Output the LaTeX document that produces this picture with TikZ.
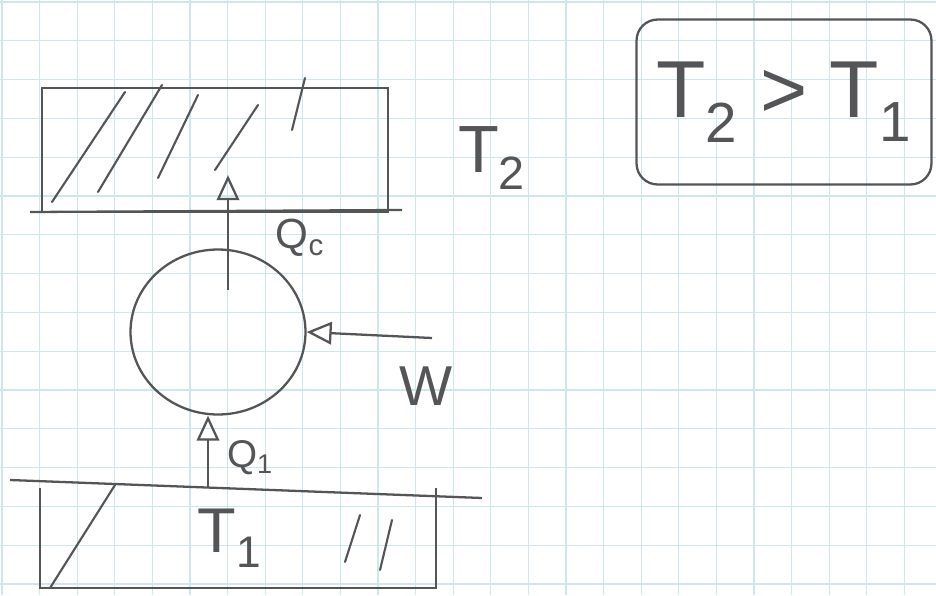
\documentclass[tikz,border=0pt]{standalone}
\usepackage{fontspec}
\setmainfont{Liberation Sans}
\usetikzlibrary{positioning,calc,arrows.meta,shapes.geometric}
\definecolor{ink}{RGB}{85,85,88}
\definecolor{gridc}{RGB}{204,232,236}
\tikzset{
  resv/.style ={draw=ink,line width=1.3pt,inner sep=0pt},
  eng/.style  ={ellipse,draw=ink,line width=1.3pt,inner sep=0pt},
  heat/.style ={-{Triangle[open,length=5mm,width=4.5mm]},draw=ink,line width=1.3pt},
  hatch/.style={draw=ink,line width=1.2pt,line cap=round},
  lbl/.style  ={text=ink,inner sep=1pt},
  gridln/.style={draw=gridc,line width=.6pt},
}
\begin{document}
\begin{tikzpicture}[x=0.02cm,y=-0.02cm]
\useasboundingbox (0,0) rectangle (936,595);
\fill[white] (0,0) rectangle (936,595);

% ===================== PAPEL QUADRICULADO ===========================
\foreach \gx in {0,...,24} \draw[gridln] (2+37.6*\gx,0) -- (2+37.6*\gx,595);
\foreach \gy in {0,...,15} \draw[gridln] (0,2+38.8*\gy) -- (936,2+38.8*\gy);

% ===================== RESERVATORIOS ================================
\node[resv,minimum width=6.92cm,minimum height=2.48cm] (hot)  at (215,150) {};
\node[inner sep=0pt,minimum width=7.9cm,minimum height=2.0cm] (cold) at (238,538) {};
\coordinate (hotl)  at (30,212);   \coordinate (hotr)  at (402,210);
\coordinate (coldl) at (10,480);   \coordinate (coldr) at (482,498);
\draw[resv] (hotl) -- (hotr);
\draw[resv] (coldl) -- (coldr);
\draw[resv] (cold.north west) -- (cold.south west) -- (cold.south east) -- (cold.north east);

% hachuras
\foreach \hx/\hy/\tx/\ty in {52/202/125/92, 98/192/162/85, 158/178/198/95, 215/170/258/105, 292/130/305/78}
  \draw[hatch] (\hx,\hy) -- (\tx,\ty);
\foreach \hx/\hy/\tx/\ty in {50/588/115/485, 345/562/360/515, 380/570/392/520}
  \draw[hatch] (\hx,\hy) -- (\tx,\ty);

\node[lbl,font=\fontsize{38}{40}\selectfont] (t2) at (492,158) {T\textsubscript{2}};
\node[lbl,font=\fontsize{36}{40}\selectfont] (t1) at (230,538) {T\textsubscript{1}};

% ===================== MAQUINA ======================================
\node[eng,minimum width=3.5cm,minimum height=3.3cm] (mq) at (218,332) {};
\coordinate (qcs) at (228,290);
\coordinate (ws)  at (432,338);

\draw[heat] (qcs) -- (hot.south -| qcs) -- ++(0,-38);
\draw[heat] (cold.north -| 208,0) -- (mq.south -| 208,0);
\draw[heat] (ws) -- (mq.east);

\node[lbl,font=\fontsize{24}{26}\selectfont] (qc) at (300,238) {Q\textsubscript{c}};
\node[lbl,font=\fontsize{22}{24}\selectfont] (q1) at (250,458) {Q\textsubscript{1}};
\node[lbl,font=\fontsize{32}{34}\selectfont] (w)  at (426,386) {W};

% ===================== CONDICAO =====================================
\node[resv,rounded corners=12pt,minimum width=5.9cm,minimum height=3.3cm,
      font=\fontsize{46}{50}\selectfont,text=ink] (cond) at (784,102)
  {T\textsubscript{2} > T\textsubscript{1}};

\end{tikzpicture}
\end{document}
